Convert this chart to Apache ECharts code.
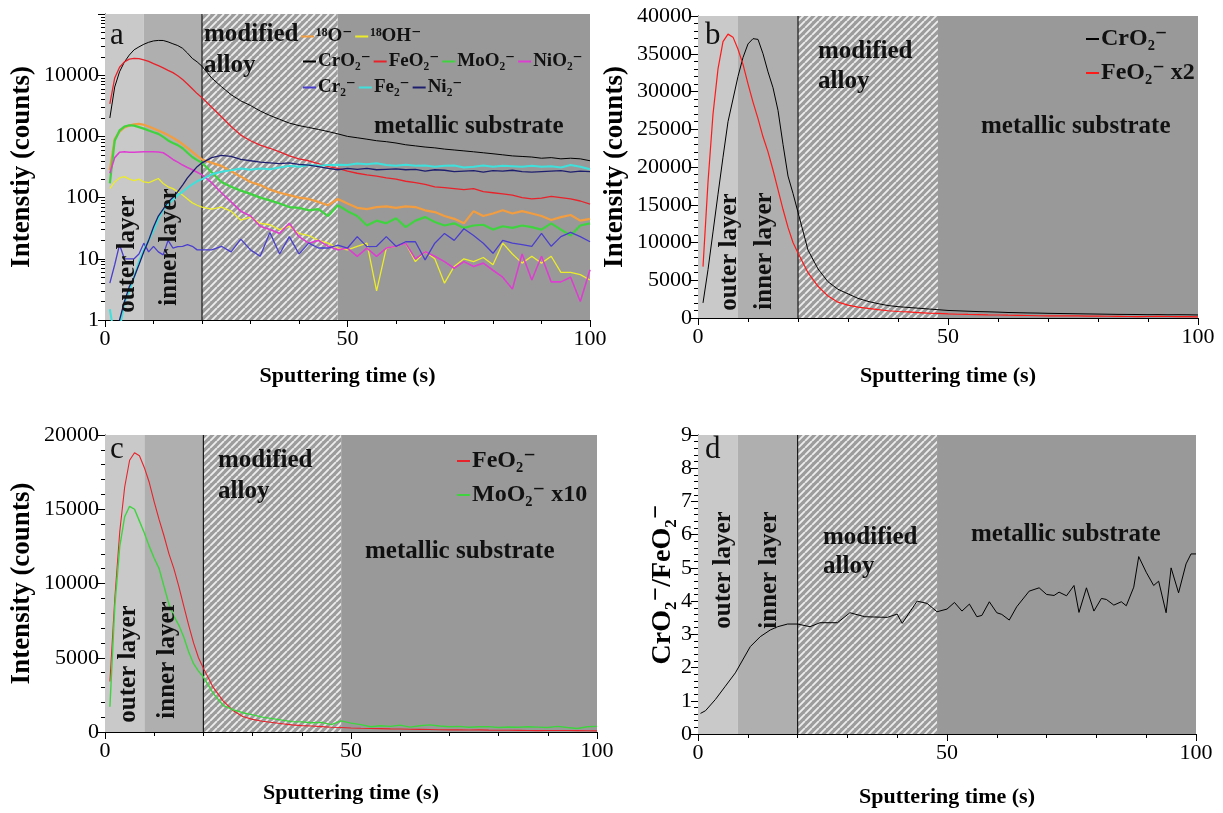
<!DOCTYPE html>
<html>
<head>
<meta charset="utf-8">
<title>ToF-SIMS depth profiles</title>
<script src="https://cdn.jsdelivr.net/npm/echarts@6/dist/echarts.min.js"></script>
<style>
  html, body { margin: 0; padding: 0; background: #ffffff; }
  #chart { width: 1223px; height: 813px; }
</style>
</head>
<body>
<div id="chart"></div>
<script>
// ---- depth-profile data -------------------------------------------------
// sputtering time (s) of the sampled points
const sputterTime = [1,2,3,4,5,6,7,8,9,10,11,12,13,14,15,16,17,18,19,20,
  22,24,26,28,30,32,34,36,38,40,42,44,46,48,50,52,54,56,58,60,
  62,64,66,68,70,72,74,76,78,80,82,84,86,88,90,92,94,96,98,100];

// secondary ion intensities (counts)
const o18 = [280,900,1200,1400,1500,1580,1600,1550,1450,1350,1250,1150,1050,950,850,750,650,560,480,420,
  370,330,270,220,180,160,135,120,110,100,95,85,75,95,80,68,65,70,72,68,
  72,70,62,58,50,45,38,60,50,55,62,55,60,55,50,43,48,52,42,45];
const oh18 = [140,180,210,220,200,190,200,180,175,190,205,170,150,140,125,110,95,82,75,70,
  65,70,60,43,48,38,36,30,34,26,24,20,18,15,14,16,18,3,15,16,
  18,9,13,10,4,7.5,10,9,10.5,8,18,12,8.5,11,8.5,11,6,6,5.5,4.5];
const crO2 = [2000,6400,11400,16400,21300,26000,29000,32000,34500,36300,37000,36900,35000,32600,30500,27500,23000,18800,16500,14000,
  9000,6500,4800,3800,3200,2600,2200,1900,1650,1500,1400,1300,1200,1100,1000,950,900,850,820,780,
  730,700,670,650,620,600,580,560,540,520,500,480,470,460,440,450,430,440,430,400];
const feO2 = [3400,9000,13500,16500,18300,18800,18600,17800,16800,15500,14300,13200,12000,11000,9800,8500,7200,6000,5000,4300,
  3000,2100,1450,1050,850,720,640,560,480,430,400,360,320,300,270,250,235,225,210,200,
  185,175,165,150,145,140,135,140,125,120,115,110,100,95,98,105,100,95,88,78];
const moO2 = [170,850,1250,1450,1520,1500,1420,1340,1250,1170,1100,980,860,780,720,640,540,460,410,370,
  260,180,150,130,115,100,90,80,70,68,62,65,50,75,60,50,35,42,38,46,
  33,42,48,40,35,38,32,35,36,30,34,32,35,33,30,38,30,24,35,38];
const niO2 = [250,450,550,560,550,550,555,560,560,560,555,540,480,420,380,340,310,285,260,235,
  175,120,85,60,50,34,30,26,38,23,18,20,16,14,15,11,15,11,15,16,
  18,10,13,11,9,7,9,7.5,8.5,6.5,5,3.2,12,4.5,11,4.2,4.2,5,2,6.6];
const cr2 = [4,8,17,10,10,10,12,18,13,16,13,11.6,20,15,15.8,16,17,16,14,14,
  14,16,13,21,14,11,27,12,23,12,18,15,15,16.8,15,23,15.8,16,23,16,
  19,19,9.6,18,26,20,31,24,18,12.3,20,18,17,16,26,16,23,27,23,19];
const fe2 = [1.5,0.5,0.7,1.9,3,5,9,14,20,29,45,63,78,92,110,125,145,165,185,200,
  240,265,280,300,285,300,290,310,330,320,340,330,340,345,340,360,350,365,340,330,
  345,330,335,320,330,335,310,320,335,320,330,325,320,330,320,325,310,340,320,290];
const ni2 = [0.3,0.5,1,2,3.5,5,8,13,20,33,50,65,85,100,125,160,210,260,320,370,
  450,490,470,420,400,380,370,360,370,350,340,320,300,285,300,290,300,285,290,295,
  285,290,270,285,280,265,270,275,260,275,270,280,265,260,265,270,275,260,270,265];

// CrO2- / FeO2- intensity ratio
const ratioTime = [0.5,1.5,3.5,5.5,7.5,10.5,12.5,14.5,16,18,20,22.5,24.5,28,30.5,33.5,38,40,41,44,
  46,48,50,51.5,53,54.5,56,57,58.5,60,61,62.5,64,66.5,68.5,70,71.5,72.5,74,75.5,
  76.5,78,79.5,81,82,83.5,85,86,87.5,88.5,90,91.5,92.5,94,95,96.5,98,99,100];
const ratioValue = [0.62,0.70,1.04,1.44,1.84,2.63,2.93,3.13,3.23,3.31,3.31,3.23,3.35,3.35,3.65,3.53,3.51,3.61,3.33,4.0,
  3.93,3.68,3.76,3.96,3.70,3.91,3.53,3.57,3.98,3.65,3.6,3.43,3.83,4.3,4.4,4.2,4.17,4.27,4.16,4.47,
  3.66,4.4,3.7,4.08,4.05,3.88,3.98,3.86,4.42,5.34,4.87,4.47,4.6,3.65,5.0,4.25,5.12,5.42,5.42];

// layer boundaries (s): [start, end, kind]
const layerSpans = [[0, 8, 0], [8, 20, 1], [20, 48, 2], [48, 100, 3]];
const oxideAlloyInterface = 20;

// ---- styling ------------------------------------------------------------
const serif = '"Liberation Serif", "DejaVu Serif", serif';

function makeHatch() {
  const s = 7;
  const c = document.createElement('canvas');
  c.width = s; c.height = s;
  const g = c.getContext('2d');
  g.fillStyle = '#9c9c9c';
  g.fillRect(0, 0, s, s);
  g.strokeStyle = '#ececec';
  g.lineWidth = 1.9;
  g.beginPath();
  for (const k of [-s, 0, s]) { g.moveTo(k, s); g.lineTo(k + s, 0); }
  g.stroke();
  return c;
}
const layerFills = ['#c9c9c9', '#afafaf', { image: makeHatch(), repeat: 'repeat' }, '#999999'];

const grids = [
  { left: 105, top: 14, width: 485, height: 306 },
  { left: 698, top: 16, width: 500, height: 302 },
  { left: 105, top: 435, width: 492, height: 297 },
  { left: 698, top: 435, width: 498, height: 299 }
].map(g => Object.assign({ containLabel: false, outerBoundsMode: 'none' }, g));

const tickLabel = { color: '#000', fontFamily: serif, fontSize: 22 };
const axisTitle = { color: '#000', fontFamily: serif, fontSize: 22, fontWeight: 'bold' };

function xAxis(i, gap) {
  return {
    type: 'value', gridIndex: i, min: 0, max: 100, interval: 50,
    axisLine: { show: true, lineStyle: { color: '#000', width: 1 } },
    axisTick: { show: true, length: 7, lineStyle: { color: '#000' } },
    minorTick: { show: true, splitNumber: 5, length: 4, lineStyle: { color: '#000' } },
    splitLine: { show: false },
    axisLabel: Object.assign({ margin: 8, formatter: v => String(v) }, tickLabel),
    name: 'Sputtering time (s)', nameLocation: 'middle', nameGap: gap,
    nameTextStyle: axisTitle
  };
}

function yAxis(i, opts, title, gap, size) {
  return Object.assign({
    type: 'value', gridIndex: i,
    axisLine: { show: true, lineStyle: { color: '#000', width: 1 } },
    axisTick: { show: true, length: 7, lineStyle: { color: '#000' } },
    minorTick: { show: true, splitNumber: 5, length: 4, lineStyle: { color: '#000' } },
    splitLine: { show: false },
    axisLabel: Object.assign({ margin: 6, formatter: v => String(v) }, tickLabel),
    name: title, nameLocation: 'middle', nameGap: gap,
    nameTextStyle: Object.assign({}, axisTitle, { fontSize: size })
  }, opts);
}

function layerSeries(i, yRef) {
  return {
    type: 'custom', xAxisIndex: i, yAxisIndex: i, z: 1, silent: true,
    encode: { x: [0, 1], y: 3 },
    data: layerSpans.map(s => [s[0], s[1], s[2], yRef]),
    renderItem(params, api) {
      const cs = params.coordSys;
      const x0 = api.coord([api.value(0), api.value(3)])[0];
      const x1 = api.coord([api.value(1), api.value(3)])[0];
      return {
        type: 'rect',
        shape: { x: x0, y: cs.y, width: x1 - x0, height: cs.height },
        style: { fill: layerFills[api.value(2)] }
      };
    }
  };
}

function interfaceSeries(i, yRef) {
  return {
    type: 'custom', xAxisIndex: i, yAxisIndex: i, z: 2, silent: true,
    encode: { x: 0, y: 1 },
    data: [[oxideAlloyInterface, yRef]],
    renderItem(params, api) {
      const cs = params.coordSys;
      const x = api.coord([api.value(0), api.value(1)])[0];
      return {
        type: 'line',
        shape: { x1: x, y1: cs.y, x2: x, y2: cs.y + cs.height },
        style: { stroke: '#1a1a1a', lineWidth: 1.2 }
      };
    }
  };
}

function profile(name, i, times, values, color, width, factor) {
  const f = factor || 1;
  return {
    type: 'line', name, xAxisIndex: i, yAxisIndex: i, z: 3,
    data: times.map((t, k) => [t, values[k] * f]),
    showSymbol: false, symbol: 'none',
    lineStyle: { color, width }, itemStyle: { color },
    emphasis: { disabled: true }
  };
}

const C = {
  o18: '#f29d3f', oh18: '#ecec2a', cr: '#000000', fe: '#e8222a', mo: '#3fd43f',
  ni: '#dc3fcf', cr2: '#4a3fcc', fe2: '#3fe0dc', ni2: '#1e1e6e'
};

// ion names with super/subscripts
const N = {
  o18: '\u00B9\u2078O\u207B', oh18: '\u00B9\u2078OH\u207B',
  cr: 'CrO\u2082\u207B', fe: 'FeO\u2082\u207B', mo: 'MoO\u2082\u207B', ni: 'NiO\u2082\u207B',
  cr2: 'Cr\u2082\u207B', fe2: 'Fe\u2082\u207B', ni2: 'Ni\u2082\u207B'
};
const feX2 = 'FeO\u2082\u207B x2';
const moX10 = 'MoO\u2082\u207B x10';

function legend(items, left, top, size, vertical, gap) {
  return {
    data: items, left, top, padding: 0, selectedMode: false,
    orient: vertical ? 'vertical' : 'horizontal',
    itemGap: gap, itemWidth: 13, itemHeight: 2, icon: 'rect',
    textStyle: { fontFamily: serif, fontSize: size, fontWeight: 'bold', color: '#111', padding: [0, 0, 0, -3] }
  };
}

const regionFont = 'bold 25px ' + serif;
function hText(text, x, y) {
  return { type: 'text', x, y, z: 100, silent: true,
    style: { text, font: regionFont, fill: '#111', align: 'left', verticalAlign: 'middle' } };
}
function vText(text, x, y) {
  return { type: 'text', x, y, z: 100, silent: true, rotation: Math.PI / 2,
    style: { text, font: regionFont, fill: '#111', align: 'center', verticalAlign: 'middle' } };
}
function letter(text, x, y) {
  return { type: 'text', x, y, z: 100, silent: true,
    style: { text, font: '31px ' + serif, fill: '#111', align: 'left', verticalAlign: 'middle' } };
}

const option = {
  animation: false,
  backgroundColor: '#ffffff',
  grid: grids,
  xAxis: [xAxis(0, 45), xAxis(1, 47), xAxis(2, 50), xAxis(3, 52)],
  yAxis: [
    yAxis(0, { type: 'log', logBase: 10, min: 1, max: 100000,
      axisLabel: Object.assign({ margin: 6, formatter: v => (v > 10000 ? '' : String(v)) }, tickLabel),
      minorTick: { show: true, splitNumber: 9, length: 4, lineStyle: { color: '#000' } } },
      'Intenstiy (counts)', 69, 27),
    yAxis(1, { min: 0, max: 40000, interval: 5000 }, 'Intensity (counts)', 69, 27),
    yAxis(2, { min: 0, max: 20000, interval: 5000 }, 'Intensity (counts)', 69, 27),
    yAxis(3, { min: 0, max: 9, interval: 1 }, 'CrO\u2082\u207B/FeO\u2082\u207B', 18, 28)
  ],
  legend: [
    legend([N.o18, N.oh18], 301, 27, 19, false, 3),
    legend([N.cr, N.fe, N.mo, N.ni], 303, 52, 19, false, 3),
    legend([N.cr2, N.fe2, N.ni2], 303, 78, 19, false, 3),
    legend([N.cr, feX2], 1086, 27, 24, true, 10),
    legend([N.fe, moX10], 457, 449, 24, true, 10)
  ],
  graphic: [
    hText('modified', 204, 35), hText('alloy', 204, 66), hText('metallic substrate', 374, 127),
    vText('outer layer', 128, 254), vText('inner layer', 170, 247), letter('a', 110, 36),

    hText('modified', 818, 52), hText('alloy', 818, 82), hText('metallic substrate', 981, 127),
    vText('outer layer', 730, 252), vText('inner layer', 765, 251), letter('b', 705, 36),

    hText('modified', 218, 461), hText('alloy', 218, 492), hText('metallic substrate', 365, 552),
    vText('outer layer', 129, 664), vText('inner layer', 168, 660), letter('c', 110, 450),

    hText('modified', 823, 538), hText('alloy', 823, 567), hText('metallic substrate', 971, 535),
    vText('outer layer', 724, 570), vText('inner layer', 770, 570), letter('d', 705, 450)
  ],
  series: [
    layerSeries(0, 10), interfaceSeries(0, 10),
    profile(N.o18, 0, sputterTime, o18, C.o18, 2.2),
    profile(N.oh18, 0, sputterTime, oh18, C.oh18, 1.3),
    profile(N.cr, 0, sputterTime, crO2, C.cr, 1),
    profile(N.fe, 0, sputterTime, feO2, C.fe, 1.3),
    profile(N.mo, 0, sputterTime, moO2, C.mo, 2.2),
    profile(N.ni, 0, sputterTime, niO2, C.ni, 1.6),
    profile(N.cr2, 0, sputterTime, cr2, C.cr2, 1.3),
    profile(N.fe2, 0, sputterTime, fe2, C.fe2, 2),
    profile(N.ni2, 0, sputterTime, ni2, C.ni2, 1.3),

    layerSeries(1, 1000), interfaceSeries(1, 1000),
    profile(N.cr, 1, sputterTime, crO2, '#000000', 1),
    profile(feX2, 1, sputterTime, feO2, '#ff1a1a', 1.2, 2),

    layerSeries(2, 1000), interfaceSeries(2, 1000),
    profile(N.fe, 2, sputterTime, feO2, '#e8222a', 1.1),
    profile(moX10, 2, sputterTime, moO2, '#3fd43f', 1.4, 10),

    layerSeries(3, 1), interfaceSeries(3, 1),
    profile('ratio', 3, ratioTime, ratioValue, '#000000', 1)
  ]
};

const chart = echarts.init(document.getElementById('chart'), null, { renderer: 'canvas' });
chart.setOption(option);
</script>
</body>
</html>
